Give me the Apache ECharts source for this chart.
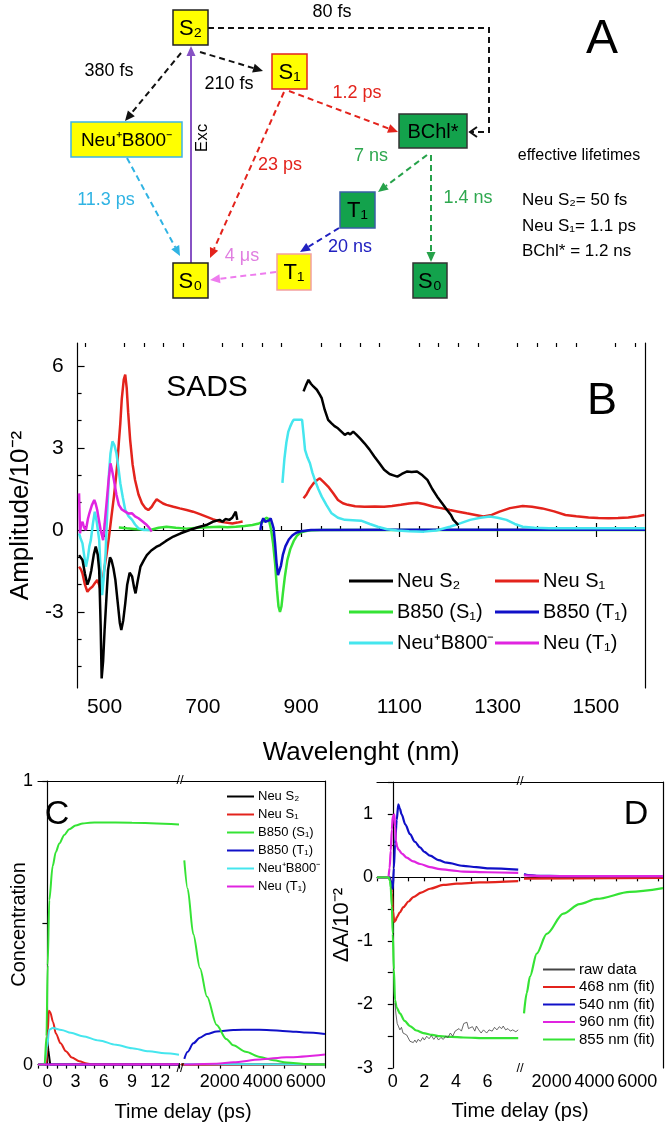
<!DOCTYPE html>
<html>
<head>
<meta charset="utf-8">
<script src="https://cdn.jsdelivr.net/npm/echarts@6/dist/echarts.min.js"></script>
<style>
  html, body { margin: 0; padding: 0; background: #fff; }
  #main { width: 666px; height: 1124px; }
</style>
</head>
<body>
<div id="main"></div>
<script>
// ---- panel B: SADS spectra, [wavelength nm, amplitude x10^-2] ----
const bNeuS2Vis = [[448,-0.92],[455,-1.1],[460,-1.6],[465,-2.0],[469,-1.8],[473,-1.47],[478,-0.9],[482,-0.61],[486,-0.9],[489,-1.47],[492,-3.5],[494,-5.43],[497,-4.8],[500,-3.66],[504,-2.4],[507,-1.47],[511,-1.0],[514,-1.1],[518,-1.4],[522,-1.83],[527,-2.7],[531,-3.4],[534,-3.66],[538,-3.3],[542,-2.69],[546,-2.0],[551,-1.56],[556,-1.7],[560,-2.1],[563,-2.32],[567,-1.9],[573,-1.34],[580,-1.1],[586,-0.92],[595,-0.75],[605,-0.62],[613,-0.55],[625,-0.4],[640,-0.24],[655,-0.12],[673,0],[690,0.1],[707,0.18],[720,0.3],[734,0.37],[740,0.3],[746,0.4],[754,0.37],[760,0.45],[767,0.67],[770,0.37]];
const bNeuS2Nir = [[905,5.07],[910,5.3],[915,5.49],[920,5.35],[925,5.25],[932,5.13],[938,4.95],[942,4.82],[948,4.4],[955,4.03],[962,3.9],[968,3.8],[975,3.72],[982,3.6],[989,3.48],[995,3.55],[1000,3.5],[1006,3.6],[1012,3.5],[1020,3.35],[1029,3.17],[1039,2.95],[1049,2.69],[1059,2.45],[1069,2.2],[1080,2.05],[1088,2.0],[1096,1.95],[1105,2.05],[1116,2.14],[1125,2.12],[1136,2.14],[1147,2.0],[1157,1.83],[1167,1.5],[1177,1.22],[1187,0.98],[1197,0.73],[1205,0.55],[1210,0.37],[1215,0.28],[1220,0.18]];
const bNeuS1Vis = [[448,-1.34],[452,-1.45],[455,-1.59],[460,-2.0],[465,-2.26],[470,-2.15],[475,-2.08],[480,-1.95],[485,-1.83],[489,-2.0],[492,-2.2],[496,-1.9],[499,-1.47],[504,-0.9],[509,-0.24],[514,0.5],[519,1.22],[523,1.9],[526,2.44],[529,3.2],[532,3.9],[535,4.8],[539,5.5],[542,5.68],[545,5.2],[548,4.3],[552,3.3],[557,2.4],[562,1.83],[569,1.3],[576,0.98],[583,0.8],[589,0.73],[596,0.85],[601,1.0],[606,1.12],[612,1.05],[619,0.97],[626,0.92],[640,0.85],[653,0.79],[667,0.73],[680,0.67],[694,0.58],[707,0.49],[720,0.4],[734,0.31],[747,0.27],[760,0.24],[770,0.27],[781,0.31]];
const bNeuS1Nir = [[905,1.16],[911,1.3],[918,1.53],[925,1.7],[932,1.82],[938,1.89],[946,1.75],[955,1.59],[965,1.35],[975,1.1],[985,0.98],[995,0.92],[1010,0.87],[1029,0.85],[1050,0.86],[1069,0.85],[1085,0.88],[1103,0.92],[1120,0.97],[1136,1.0],[1150,0.95],[1170,0.85],[1185,0.8],[1203,0.73],[1220,0.67],[1237,0.61],[1255,0.55],[1271,0.49],[1288,0.55],[1304,0.67],[1325,0.8],[1351,0.88],[1370,0.85],[1391,0.79],[1415,0.68],[1438,0.55],[1460,0.5],[1485,0.46],[1505,0.44],[1526,0.43],[1545,0.44],[1566,0.46],[1585,0.5],[1599,0.55]];
const bB850S1 = [[529,0.09],[545,0.06],[560,0.04],[575,0.02],[593,0],[610,0.08],[626,0.12],[645,0.08],[666,0.05],[690,0.08],[710,0.1],[734,0.12],[750,0.1],[767,0.12],[785,0.15],[801,0.18],[814,0.24],[822,0.3],[829,0.45],[834,0.4],[839,0],[843,-0.5],[847,-1.2],[851,-2.2],[854,-2.8],[857,-3.0],[860,-2.8],[863,-2.3],[867,-1.7],[872,-1.1],[878,-0.7],[885,-0.4],[892,-0.2],[900,-0.08],[915,-0.02],[940,0],[1100,0],[1300,0],[1600,0]];
const bB850T1 = [[817,0],[820,0.3],[823,0.43],[827,0.3],[831,0.24],[835,0.35],[838,0.43],[841,0.25],[844,0.06],[847,-0.5],[850,-1.2],[853,-1.65],[856,-1.6],[859,-1.3],[863,-0.9],[868,-0.6],[875,-0.35],[882,-0.2],[890,-0.1],[900,-0.05],[920,0],[1100,0.01],[1300,0.01],[1600,0.01]];
const bNeuB800Vis = [[448,-0.12],[451,-0.3],[455,-0.49],[459,-1.0],[462,-1.34],[466,-1.0],[469,-0.6],[472,-0.37],[476,0.2],[480,0.67],[484,0.3],[489,-0.37],[492,-1.5],[495,-2.38],[498,-1.8],[502,-0.85],[505,0.5],[509,2.08],[512,2.8],[516,3.24],[520,3.1],[524,2.81],[528,2.3],[532,1.71],[537,1.2],[542,0.73],[549,0.5],[556,0.37],[562,0.2],[569,0.06],[580,0],[593,0]];
const bNeuB800Nir = [[862,1.72],[866,2.6],[870,3.2],[874,3.6],[878,3.79],[882,3.95],[885,4.03],[893,4.03],[902,4.03],[905,3.5],[908,2.93],[913,2.65],[918,2.44],[923,2.1],[928,1.83],[935,1.5],[942,1.22],[952,0.9],[962,0.61],[975,0.45],[989,0.37],[1005,0.36],[1022,0.34],[1040,0.22],[1056,0.12],[1075,0.03],[1096,-0.02],[1120,-0.05],[1150,-0.06],[1175,-0.02],[1203,0.12],[1225,0.25],[1244,0.37],[1265,0.45],[1284,0.49],[1300,0.45],[1318,0.37],[1335,0.22],[1351,0.12],[1375,0.08],[1405,0.06],[1500,0.06],[1600,0.06]];
const bNeuT1 = [[448,1.34],[450,-0.12],[452,0.2],[455,0.3],[458,0.1],[462,0],[466,0.4],[469,0.61],[474,0.9],[479,1.1],[482,0.95],[485,0.73],[489,0.3],[492,0],[497,-0.37],[500,0.2],[504,0.98],[508,1.8],[512,2.44],[515,2.2],[519,1.83],[524,1.3],[529,0.92],[535,0.75],[542,0.67],[549,0.6],[556,0.61],[562,0.5],[569,0.43],[578,0.3],[586,0.18],[591,0.08],[596,-0.06]];
const bMajorX = [500, 700, 900, 1100, 1300, 1500];
const bMinorX = [460, 540, 580, 620, 660, 740, 780, 820, 860, 940, 980, 1020, 1060, 1140, 1180, 1220, 1260, 1340, 1380, 1420, 1460, 1540, 1580];
const bMajorY = [-3, 0, 3, 6];
const bMinorY = [-5, -4, -2, -1, 1, 2, 4, 5];

// ---- panel C: concentrations, [time ps, concentration] ----
const cNeuS2Early = [[-1,0],[-0.2,0],[0,0.08],[0.1,0.05],[0.3,0],[14,0]];
const cNeuS1Early = [[-1,0],[-0.1,0],[0.05,0.12],[0.15,0.19],[0.3,0.185],[0.6,0.15],[0.9,0.11],[1.4,0.075],[1.97,0.047],[2.6,0.025],[3.4,0.012],[4.2,0.004],[4.8,0],[14,0]];
const cB850S1Early = [[-1,0],[-0.3,0],[-0.1,0.1],[0.03,0.35],[0.2,0.58],[0.56,0.7],[0.9,0.75],[1.27,0.78],[1.8,0.81],[2.33,0.83],[3,0.843],[3.75,0.85],[4.5,0.853],[5.5,0.854],[9,0.853],[14,0.847]];
const cB850T1Early = [[-1,0],[14,0]];
const cNeuB800Early = [[-1,0],[-0.3,0],[-0.05,0.06],[0.2,0.123],[0.56,0.129],[1.5,0.122],[2.5,0.112],[3.75,0.1],[5.5,0.085],[7.3,0.07],[9,0.058],[10.8,0.047],[12.5,0.04],[14,0.035]];
const cNeuT1Early = [[-1,0],[14,0.001]];
const cNeuS2Late = [[200,0],[6900,0]];
const cNeuS1Late = [[200,0],[6900,0]];
const cB850S1Late = [[344,0.72],[500,0.62],[763,0.46],[1075,0.34],[1400,0.24],[1853,0.14],[2300,0.09],[2627,0.068],[3200,0.045],[3871,0.027],[4500,0.015],[5115,0.007],[6000,0.002],[6900,0]];
const cB850T1Late = [[344,0.02],[500,0.045],[763,0.075],[1075,0.095],[1400,0.108],[1853,0.117],[2627,0.122],[3500,0.123],[4183,0.122],[5115,0.118],[6000,0.113],[6900,0.108]];
const cNeuB800Late = [[344,0.002],[6900,0]];
const cNeuT1Late = [[344,0],[1853,0.003],[2627,0.008],[3871,0.018],[5115,0.026],[6900,0.036]];
const cEarlyLabels = [0, 3, 6, 9, 12];
const cEarlyTicks = [-1, 0, 1, 2, 3, 4, 5, 6, 7, 8, 9, 10, 11, 12, 13, 14];
const lateLabels = [2000, 4000, 6000];
const lateTicks = [1000, 2000, 3000, 4000, 5000, 6000, 7000];

// ---- panel D: kinetics, [time ps, dA x10^-2] ----
const dRawEarly = [[0.14,-1.98],[0.2,-2.15],[0.28,-2.3],[0.35,-2.34],[0.45,-2.4],[0.55,-2.36],[0.65,-2.45],[0.75,-2.42],[0.88,-2.48],[0.95,-2.45],[1.09,-2.58],[1.2,-2.55],[1.3,-2.6],[1.4,-2.56],[1.5,-2.6],[1.6,-2.55],[1.75,-2.58],[1.9,-2.52],[2.0,-2.56],[2.15,-2.5],[2.3,-2.54],[2.45,-2.49],[2.6,-2.55],[2.75,-2.5],[2.9,-2.56],[3.05,-2.52],[3.2,-2.55],[3.35,-2.5],[3.5,-2.52],[3.65,-2.45],[3.8,-2.5],[3.95,-2.42],[4.05,-2.45],[4.2,-2.38],[4.35,-2.42],[4.5,-2.3],[4.6,-2.33],[4.7,-2.28],[4.8,-2.38],[4.9,-2.4],[5.05,-2.35],[5.2,-2.42],[5.3,-2.34],[5.45,-2.4],[5.6,-2.45],[5.75,-2.4],[5.95,-2.45],[6.1,-2.4],[6.3,-2.42],[6.45,-2.36],[6.6,-2.4],[6.75,-2.35],[6.9,-2.38],[7.0,-2.34],[7.15,-2.4],[7.3,-2.38],[7.45,-2.42],[7.6,-2.4],[7.8,-2.43],[7.95,-2.4]];
const d468Early = [[-1,0],[-0.2,0],[-0.13,-0.05],[-0.05,-0.25],[0,-0.52],[0.1,-0.7],[0.18,-0.68],[0.25,-0.63],[0.45,-0.55],[0.67,-0.47],[1,-0.38],[1.3,-0.31],[1.8,-0.24],[2.36,-0.18],[3.2,-0.12],[4.05,-0.1],[5.5,-0.08],[7.95,-0.06]];
const d540Early = [[-1,0],[-0.2,0],[-0.13,-0.05],[-0.05,-0.15],[0,-0.18],[0.07,0.15],[0.14,0.52],[0.25,0.9],[0.35,1.15],[0.45,1.08],[0.56,0.99],[0.8,0.83],[1.09,0.68],[1.4,0.56],[1.73,0.47],[2.0,0.4],[2.36,0.34],[2.9,0.27],[3.42,0.23],[4.47,0.18],[5.3,0.16],[6.16,0.14],[7.95,0.12]];
const d960Early = [[-1,0],[-0.28,0],[-0.2,0.15],[-0.13,0.42],[-0.06,0.75],[0,0.96],[0.1,0.99],[0.15,0.8],[0.2,0.57],[0.28,0.48],[0.35,0.44],[0.6,0.37],[0.88,0.31],[1.3,0.25],[1.73,0.21],[2.36,0.16],[2.99,0.13],[3.7,0.11],[4.47,0.09],[6,0.08],[7.95,0.07]];
const d855Early = [[-1,0],[-0.28,0],[-0.18,-0.05],[-0.13,-0.16],[-0.06,-0.45],[0,-0.89],[0.07,-1.45],[0.14,-1.93],[0.25,-2.05],[0.45,-2.14],[0.75,-2.26],[1.09,-2.34],[1.5,-2.41],[1.93,-2.45],[2.5,-2.48],[2.99,-2.5],[3.7,-2.51],[4.47,-2.52],[6,-2.53],[7.95,-2.53]];
const d468Late = [[710,-0.02],[7200,-0.01]];
const d540Late = [[710,0.05],[900,0.035],[1303,0.025],[2500,0.02],[7200,0.02]];
const d960Late = [[710,0.03],[1500,0.02],[7200,0.02]];
const d855Late = [[710,-2.14],[836,-1.82],[990,-1.56],[1303,-1.2],[1770,-0.89],[2545,-0.57],[3300,-0.42],[4104,-0.34],[5659,-0.23],[7200,-0.17]];
const dEarlyLabels = [0, 2, 4, 6];
const dEarlyTicks = [-1, 0, 1, 2, 3, 4, 5, 6, 7, 8];
const dLabelsY = [-3, -2, -1, 0, 1];
const dTicksY = [-3, -2.5, -2, -1.5, -1, -0.5, 0, 0.5, 1, 1.5];

const FONT = '"Liberation Sans", Arial, sans-serif';
const C_BLACK = '#000000', C_RED = '#e3231c', C_GREEN = '#35e335', C_BLUE = '#1010c8', C_CYAN = '#45e6ee', C_MAG = '#e024e0';

// ---------- panel A scheme (graphic elements) ----------
function txt(x, y, s, size, color, extra, align) {
  const a = align || 'center';
  return Object.assign({
    type: 'text', x: x, y: y, z: 10,
    style: { text: s, fill: color || '#000', font: size + 'px ' + FONT, align: a, verticalAlign: 'middle', textAlign: a, textVerticalAlign: 'middle' }
  }, extra || {});
}
function box(x, y, w, h, fill, stroke, label, size) {
  return [
    { type: 'rect', z: 10, shape: { x: x, y: y, width: w, height: h }, style: { fill: fill, stroke: stroke, lineWidth: 1.5 } },
    txt(x + w / 2, y + h / 2 + 1, label, size, '#000')
  ];
}
function arrow(x1, y1, x2, y2, color, dashed) {
  const a = Math.atan2(y2 - y1, x2 - x1);
  const L = 10, W = 4.5;
  const bx = x2 - L * Math.cos(a), by = y2 - L * Math.sin(a);
  const px = -Math.sin(a) * W, py = Math.cos(a) * W;
  return [
    { type: 'line', z: 9, shape: { x1: x1, y1: y1, x2: bx, y2: by }, style: { stroke: color, lineWidth: 2, lineDash: dashed ? [6, 4] : null } },
    { type: 'polygon', z: 9, shape: { points: [[x2, y2], [bx + px, by + py], [bx - px, by - py]] }, style: { fill: color } }
  ];
}

const schemeEls = [].concat(
  arrow(200, 52, 263, 71, '#111', true),
  arrow(181, 53, 125, 121, '#111', true),
  [
    { type: 'polyline', z: 9, shape: { points: [[208, 28], [489, 28], [489, 132], [471, 132]] }, style: { stroke: '#111', lineWidth: 2, lineDash: [6, 4], fill: null } },
    { type: 'polyline', z: 9, shape: { points: [[477, 127], [470, 132], [477, 137]] }, style: { stroke: '#111', lineWidth: 2, fill: null } }
  ],
  arrow(191, 263, 191, 46, '#8752c4', false),
  arrow(289, 91, 398, 132, C_RED, true),
  arrow(284, 92, 210, 258, C_RED, true),
  arrow(127, 158, 180, 256, '#2fb3e3', true),
  arrow(427, 155, 378, 192, '#26a24a', true),
  arrow(431, 155, 431, 262, '#26a24a', true),
  arrow(339, 228, 300, 252, '#2020c0', true),
  arrow(276, 272, 210, 280, '#ee7cee', true),
  box(173, 10, 35, 35, '#ffff00', '#222', 'S₂', 22),
  box(272, 54, 35, 35, '#ffff00', C_RED, 'S₁', 22),
  box(71, 122, 111, 35, '#ffff00', '#3cb4e6', 'Neu⁺B800⁻', 19),
  box(399, 114, 68, 34, '#13a24c', '#333', 'BChl*', 20),
  box(340, 192, 35, 36, '#13a24c', '#3a5fa5', 'T₁', 22),
  box(173, 263, 35, 35, '#ffff00', '#222', 'S₀', 22),
  box(277, 254, 34, 36, '#ffff00', '#f4a0a0', 'T₁', 22),
  box(413, 263, 34, 35, '#13a24c', '#333', 'S₀', 22),
  [
    txt(332, 12, '80 fs', 18),
    txt(109, 71, '380 fs', 18),
    txt(229, 84, '210 fs', 18),
    txt(357, 93, '1.2 ps', 18, C_RED),
    txt(280, 165, '23 ps', 18, C_RED),
    txt(371, 156, '7 ns', 18, '#2ea84f'),
    txt(468, 198, '1.4 ns', 18, '#2ea84f'),
    txt(106, 200, '11.3 ps', 18, '#2fb3e3'),
    txt(350, 247, '20 ns', 18, '#2020c0'),
    txt(242, 256, '4 μs', 18, '#e07ee0'),
    txt(202, 138, 'Exc', 17, '#000', { rotation: Math.PI / 2 }),
    txt(579, 156, 'effective lifetimes', 16),
    txt(522, 200, 'Neu S₂= 50 fs', 17, '#000', null, 'left'),
    txt(522, 226, 'Neu S₁= 1.1 ps', 17, '#000', null, 'left'),
    txt(522, 251, 'BChl* = 1.2 ns', 17, '#000', null, 'left'),
    txt(602, 40, 'A', 48),
    // panel letters and labels for B, C, D
    txt(207, 388, 'SADS', 30),
    txt(602, 402, 'B', 45),
    txt(57, 815, 'C', 34),
    txt(636, 815, 'D', 34),
    txt(180, 780, '//', 13),
    txt(180, 1068, '//', 13),
    txt(520, 781, '//', 13),
    txt(520, 1068, '//', 13),
    txt(183, 1112, 'Time delay (ps)', 20),
    txt(520, 1111, 'Time delay (ps)', 20)
  ]
);

// ---------- axes ----------
const lineOn = { show: true, lineStyle: { color: '#000', width: 1.2 } };
const noLabel = { show: false };
const plain = function (v) { return String(v); };
function frameAxis(gi, pos, min, max) {
  return { type: 'value', gridIndex: gi, position: pos, min: min, max: max, axisLine: lineOn, axisTick: { show: false }, axisLabel: noLabel, splitLine: { show: false } };
}
function tickAxis(gi, pos, min, max, ticks, labels, inside, len, fs, margin, extra) {
  return Object.assign({
    type: 'value', gridIndex: gi, position: pos, min: min, max: max,
    axisLine: labels ? lineOn : { show: false },
    axisTick: { show: true, inside: inside, length: len, customValues: ticks, lineStyle: { color: '#000', width: 1.2 } },
    axisLabel: labels ? { show: true, customValues: labels, formatter: plain, hideOverlap: false, showMinLabel: true, showMaxLabel: true, fontSize: fs, margin: margin, color: '#000', fontFamily: FONT } : noLabel,
    splitLine: { show: false }
  }, extra || {});
}

const xAxes = [
  // B (grid 0)
  tickAxis(0, 'bottom', 445, 1600, bMajorX, bMajorX, true, 7, 21, 9, {
    name: 'Wavelenght (nm)', nameLocation: 'middle', nameGap: 52,
    nameTextStyle: { fontSize: 26, color: '#000', fontFamily: FONT }
  }),
  tickAxis(0, 'bottom', 445, 1600, bMinorX, null, true, 4),
  tickAxis(0, 'top', 445, 1600, bMajorX, null, true, 7, 0, 0, { axisLine: lineOn }),
  tickAxis(0, 'top', 445, 1600, bMinorX, null, true, 4),
  // C early (grid 1), C late (grid 2)
  tickAxis(1, 'bottom', -1, 14, cEarlyTicks, cEarlyLabels, false, 4, 18, 5),
  frameAxis(1, 'top', -1, 14),
  tickAxis(2, 'bottom', 190, 6900, lateTicks, lateLabels, false, 4, 18, 5),
  frameAxis(2, 'top', 190, 6900),
  // D early (grid 3), D late (grid 4)
  tickAxis(3, 'bottom', -1, 8, dEarlyTicks, dEarlyLabels, false, 4, 18, 5),
  frameAxis(3, 'top', -1, 8),
  tickAxis(4, 'bottom', 570, 7200, lateTicks, lateLabels, false, 4, 18, 5),
  frameAxis(4, 'top', 570, 7200)
];

const yAxes = [
  tickAxis(0, 'left', -5.78, 6.84, bMajorY, bMajorY, true, 7, 21, 14, {
    name: 'Amplitude/10⁻²', nameLocation: 'middle', nameGap: 36,
    nameTextStyle: { fontSize: 26, color: '#000', fontFamily: FONT }
  }),
  tickAxis(0, 'left', -5.78, 6.84, bMinorY, null, true, 4),
  frameAxis(0, 'right', -5.78, 6.84),
  tickAxis(1, 'left', -0.012, 1, [0, 0.5, 1], [0, 1], false, 5, 18, 5, {
    name: 'Concentration', nameLocation: 'middle', nameGap: 9, nameMoveOverlap: false,
    nameTextStyle: { fontSize: 20, color: '#000', fontFamily: FONT }
  }),
  frameAxis(2, 'right', -0.012, 1),
  tickAxis(3, 'left', -3, 1.5, dTicksY, dLabelsY, false, 5, 18, 4, {
    name: 'ΔA/10⁻²', nameLocation: 'middle', nameGap: 24,
    nameTextStyle: { fontSize: 22, color: '#000', fontFamily: FONT }
  }),
  frameAxis(4, 'right', -3, 1.5)
];

// ---------- series ----------
const GAP = [[850, '-']];
function ln(name, data, color, xi, yi, w, extra) {
  return Object.assign({
    name: name, type: 'line', data: data, xAxisIndex: xi, yAxisIndex: yi,
    symbol: 'none', connectNulls: false, animation: false,
    lineStyle: { color: color, width: w }, itemStyle: { color: color }
  }, extra || {});
}
const sm = { smooth: 0.3, smoothMonotone: 'x' };

const series = [
  // B
  ln('B850 (S₁)', bB850S1, C_GREEN, 0, 0, 2.5),
  ln('B850 (T₁)', bB850T1, C_BLUE, 0, 0, 2.5),
  ln('Neu S₁', bNeuS1Vis.concat(GAP, bNeuS1Nir), C_RED, 0, 0, 2.5),
  ln('Neu⁺B800⁻', bNeuB800Vis.concat(GAP, bNeuB800Nir), C_CYAN, 0, 0, 2.5),
  ln('Neu (T₁)', bNeuT1, C_MAG, 0, 0, 2.5),
  ln('Neu S₂', bNeuS2Vis.concat(GAP, bNeuS2Nir), C_BLACK, 0, 0, 2.5),
  // C early
  ln('Neu S₂', cNeuS2Early, C_BLACK, 4, 3, 2),
  ln('Neu S₁', cNeuS1Early, C_RED, 4, 3, 2, sm),
  ln('Neu⁺B800⁻', cNeuB800Early, C_CYAN, 4, 3, 2, sm),
  ln('B850 (T₁)', cB850T1Early, C_BLUE, 4, 3, 2),
  ln('B850 (S₁)', cB850S1Early, C_GREEN, 4, 3, 2, sm),
  ln('Neu (T₁)', cNeuT1Early, C_MAG, 4, 3, 2),
  // C late
  ln('Neu S₂', cNeuS2Late, C_BLACK, 6, 4, 2),
  ln('Neu S₁', cNeuS1Late, C_RED, 6, 4, 2),
  ln('Neu⁺B800⁻', cNeuB800Late, C_CYAN, 6, 4, 2),
  ln('B850 (T₁)', cB850T1Late, C_BLUE, 6, 4, 2, sm),
  ln('B850 (S₁)', cB850S1Late, C_GREEN, 6, 4, 2, sm),
  ln('Neu (T₁)', cNeuT1Late, C_MAG, 6, 4, 2, sm),
  // D early
  ln('468 nm (fit)', d468Early, C_RED, 8, 5, 2.2, sm),
  ln('540 nm (fit)', d540Early, C_BLUE, 8, 5, 2.2, sm),
  ln('960 nm (fit)', d960Early, C_MAG, 8, 5, 2.2, sm),
  ln('855 nm (fit)', d855Early, C_GREEN, 8, 5, 2.2, sm),
  ln('raw data', dRawEarly, '#444444', 8, 5, 0.8),
  // D late
  ln('468 nm (fit)', d468Late, C_RED, 10, 6, 2.2),
  ln('540 nm (fit)', d540Late, C_BLUE, 10, 6, 2.2, sm),
  ln('960 nm (fit)', d960Late, C_MAG, 10, 6, 2.2),
  ln('855 nm (fit)', d855Late, C_GREEN, 10, 6, 2.2, sm)
];

function legendBlock(names, left, top, gap, w, h, fs) {
  return {
    data: names, orient: 'vertical', left: left, top: top, itemGap: gap,
    icon: 'rect', itemWidth: w, itemHeight: h, selectedMode: false, padding: 0,
    textStyle: { fontSize: fs, color: '#000', fontFamily: FONT, padding: [0, 0, 0, -1] }
  };
}

const chart = echarts.init(document.getElementById('main'), null, { renderer: 'canvas' });
chart.setOption({
  backgroundColor: '#ffffff',
  animation: false,
  textStyle: { fontFamily: FONT },
  grid: [
    { left: 70, top: 343, width: 575, height: 345 },
    { left: 38, top: 781, width: 141, height: 287 },
    { left: 181, top: 781, width: 144, height: 287 },
    { left: 377, top: 782, width: 142, height: 286 },
    { left: 521, top: 782, width: 142, height: 286 }
  ],
  xAxis: xAxes,
  yAxis: yAxes,
  legend: [
    legendBlock(['Neu S₂', 'B850 (S₁)', 'Neu⁺B800⁻'], 349, 571, 11, 44, 3, 20),
    legendBlock(['Neu S₁', 'B850 (T₁)', 'Neu (T₁)'], 495, 571, 11, 44, 3, 20),
    legendBlock(['Neu S₂', 'Neu S₁', 'B850 (S₁)', 'B850 (T₁)', 'Neu⁺B800⁻', 'Neu (T₁)'], 227, 790, 5, 27, 2, 13),
    legendBlock(['raw data', '468 nm (fit)', '540 nm (fit)', '960 nm (fit)', '855 nm (fit)'], 543, 962, 2.5, 32, 2, 15)
  ],
  graphic: { elements: schemeEls },
  series: series
});
</script>
</body>
</html>
